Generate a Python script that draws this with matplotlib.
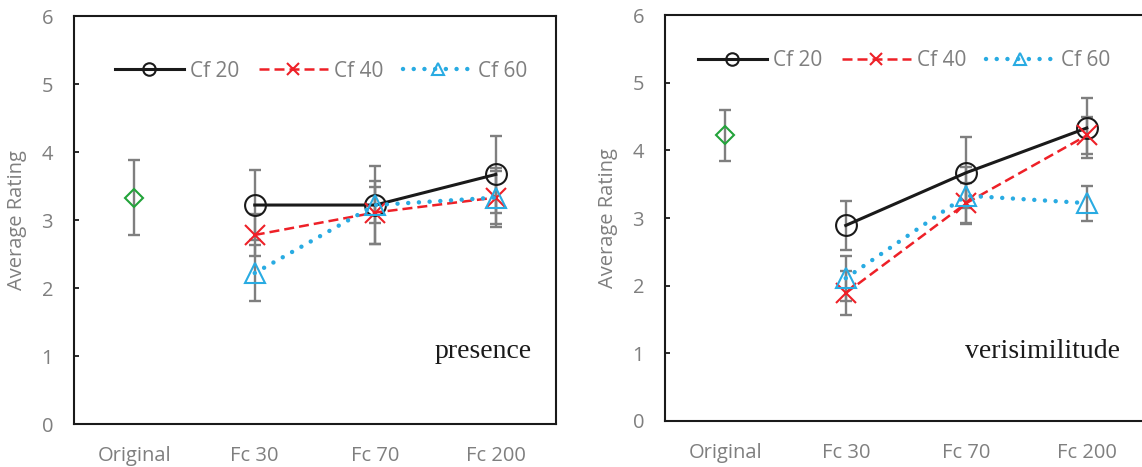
import matplotlib
matplotlib.use("Agg")
import matplotlib.pyplot as plt

plt.rcParams['font.family'] = ['Open Sans', 'DejaVu Sans']

cats = ['Original', 'Fc 30', 'Fc 70', 'Fc 200']
series = ['Cf 20', 'Cf 40', 'Cf 60']

# presence
pres_orig = 3.33
pres_orig_err = 0.55
pres_mean = {'Cf 20': [3.22, 3.22, 3.67],
             'Cf 40': [2.78, 3.11, 3.33],
             'Cf 60': [2.22, 3.22, 3.33]}
pres_err = {'Cf 20': [0.52, 0.58, 0.57],
            'Cf 40': [0.31, 0.46, 0.43],
            'Cf 60': [0.41, 0.27, 0.39]}

# verisimilitude
veri_orig = 4.22
veri_orig_err = 0.38
veri_mean = {'Cf 20': [2.89, 3.67, 4.33],
             'Cf 40': [1.89, 3.22, 4.22],
             'Cf 60': [2.11, 3.33, 3.22]}
veri_err = {'Cf 20': [0.36, 0.52, 0.44],
            'Cf 40': [0.32, 0.30, 0.27],
            'Cf 60': [0.33, 0.42, 0.26]}

GRAY = '#7f7f7f'
styles = {
    'Cf 20': dict(color='#1a1a1a', ls='-', lw=2.2, marker='o', ms=15, mew=1.5),
    'Cf 40': dict(color='#ee2027', ls=(0, (4, 2)), lw=1.8, marker='x', ms=14, mew=1.5),
    'Cf 60': dict(color='#29abe2', ls=(0, (0.01, 2.4)), lw=3.2, marker='^', ms=14, mew=1.5,
                  dash_capstyle='round'),
}


def panel(ax, orig, orig_err, means, errs, label, leg_pos, label_pos):
    xs = [1, 2, 3]
    ax.errorbar([0], [orig], yerr=[orig_err], fmt='none', ecolor=GRAY,
                elinewidth=1.7, capsize=4, capthick=1.7, zorder=2)
    ax.plot([0], [orig], 'D', ms=9, mfc='none', mec='#22a33a', mew=1.5, zorder=4)
    for s in series:
        ax.errorbar(xs, means[s], yerr=errs[s], fmt='none', ecolor=GRAY,
                    elinewidth=1.7, capsize=4, capthick=1.7, zorder=2)
    for s in series:
        st = dict(styles[s])
        ax.plot(xs, means[s], mfc='none', mec=st['color'], label=s, zorder=3, **st)

    ax.set_ylim(0, 6)
    ax.set_yticks(range(7))
    ax.set_xticks(range(4))
    ax.set_xticklabels(cats)
    ax.tick_params(axis='y', direction='in', length=3.5, width=1.3, pad=15,
                   labelsize=14.5, labelcolor=GRAY, color='#1a1a1a')
    ax.tick_params(axis='x', length=0, pad=16, labelsize=14.5, labelcolor=GRAY)
    for sp in ax.spines.values():
        sp.set_linewidth(1.5)
        sp.set_color('#1a1a1a')
    ax.set_ylabel('Average Rating', fontsize=14.5, color=GRAY)
    ax.yaxis.set_label_coords(-0.097, 0.5)
    ax.legend(loc='center left', bbox_to_anchor=leg_pos, ncol=3, frameon=False,
              fontsize=15, labelcolor=GRAY, handlelength=3.3, handletextpad=0.3,
              columnspacing=0.95, borderpad=0, borderaxespad=0, markerscale=0.6)
    ax.text(label_pos[0], label_pos[1], label, ha='right', va='center',
            fontsize=20, family='Liberation Serif', color='#1a1a1a')


fig = plt.figure(figsize=(11.42, 4.67), dpi=100)
ax1 = fig.add_axes([74 / 1142, 1 - 424 / 467, 482 / 1142, 408 / 467])
ax2 = fig.add_axes([665 / 1142, 1 - 421 / 467, 482 / 1142, 406 / 467])

for ax in (ax1, ax2):
    ax.set_xlim(-0.5, 3.5)

panel(ax1, pres_orig, pres_orig_err, pres_mean, pres_err, 'presence',
      (0.085, 0.865), (3.30, 1.06))
panel(ax2, veri_orig, veri_orig_err, veri_mean, veri_err, 'verisimilitude',
      (0.068, 0.887), (3.28, 1.02))

fig.savefig('out.png', dpi=100)
